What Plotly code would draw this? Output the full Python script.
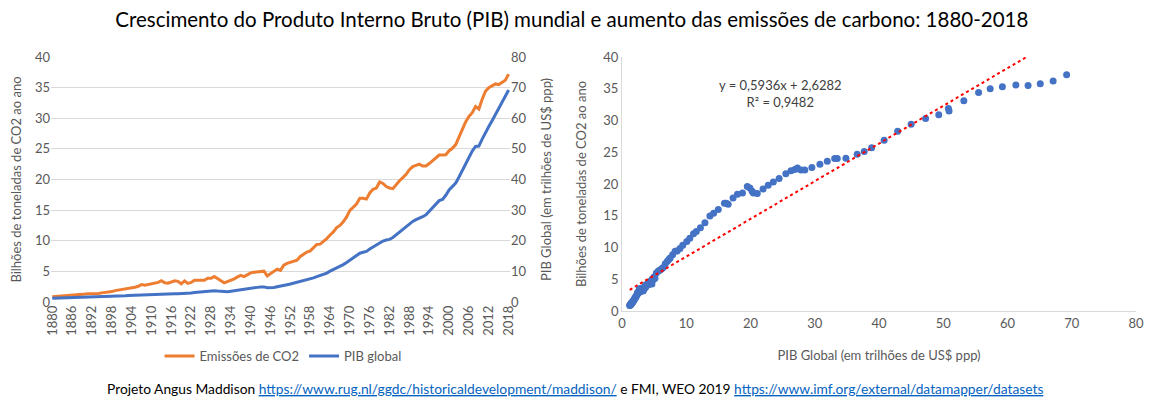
import plotly.graph_objects as go

# anos 1880-2018
anos = list(range(1880, 2019))

# emissões de CO2 (bilhões de toneladas por ano)
co2 = [
    0.86, 0.90, 0.95, 1.01, 1.01, 1.01, 1.03, 1.08, 1.18, 1.18,
    1.30, 1.36, 1.37, 1.34, 1.40, 1.49, 1.52, 1.60, 1.70, 1.86,
    1.95, 2.02, 2.06, 2.26, 2.27, 2.42, 2.56, 2.86, 2.74, 2.86,
    3.01, 3.05, 3.20, 3.47, 3.14, 3.07, 3.31, 3.46, 3.38, 2.97,
    3.45, 3.03, 3.19, 3.56, 3.55, 3.59, 3.56, 3.87, 3.86, 4.15,
    3.86, 3.48, 3.13, 3.33, 3.61, 3.76, 4.10, 4.35, 4.14, 4.42,
    4.76, 4.87, 4.90, 5.05, 5.03, 4.25, 4.63, 5.05, 5.37, 5.17,
    6.00, 6.30, 6.43, 6.63, 6.81, 7.43, 7.85, 8.15, 8.35, 8.85,
    9.39, 9.45, 9.85, 10.35, 10.95, 11.45, 12.15, 12.50, 13.10, 13.90,
    14.95, 15.40, 16.00, 16.95, 16.95, 16.80, 17.80, 18.40, 18.60, 19.60,
    19.35, 18.85, 18.60, 18.50, 19.20, 19.80, 20.30, 20.85, 21.60, 22.10,
    22.30, 22.50, 22.20, 22.20, 22.60, 23.10, 23.60, 24.00, 24.00, 24.05,
    24.70, 25.10, 25.70, 26.90, 28.30, 29.40, 30.30, 30.90, 31.90, 31.50,
    33.10, 34.40, 35.00, 35.30, 35.60, 35.50, 35.80, 36.20, 37.20,
]

# PIB global (trilhões de US$ ppp)
pib = [
    1.20, 1.23, 1.27, 1.30, 1.32, 1.34, 1.37, 1.41, 1.44, 1.47,
    1.52, 1.54, 1.58, 1.59, 1.64, 1.70, 1.74, 1.77, 1.85, 1.91,
    1.97, 2.02, 2.06, 2.13, 2.17, 2.24, 2.35, 2.40, 2.40, 2.50,
    2.56, 2.61, 2.70, 2.73, 2.64, 2.66, 2.76, 2.72, 2.70, 2.71,
    2.75, 2.80, 2.94, 3.08, 3.19, 3.30, 3.40, 3.51, 3.62, 3.70,
    3.57, 3.43, 3.28, 3.37, 3.52, 3.70, 3.93, 4.08, 4.13, 4.37,
    4.49, 4.68, 4.78, 4.90, 4.93, 4.65, 4.60, 4.73, 4.98, 5.13,
    5.34, 5.65, 5.88, 6.14, 6.35, 6.73, 7.05, 7.32, 7.49, 7.87,
    8.26, 8.58, 9.02, 9.45, 10.08, 10.55, 11.13, 11.56, 12.20, 12.90,
    13.68, 14.25, 14.98, 15.94, 16.24, 16.52, 17.28, 17.96, 18.75, 19.50,
    19.90, 20.25, 20.45, 21.05, 21.95, 22.75, 23.55, 24.45, 25.50, 26.30,
    26.90, 27.30, 27.85, 28.45, 29.55, 30.80, 31.95, 33.10, 33.50, 34.85,
    36.60, 37.70, 38.85, 40.80, 42.90, 45.00, 47.25, 49.30, 50.80, 50.90,
    53.20, 55.50, 57.30, 59.20, 61.30, 63.20, 65.10, 67.10, 69.20,
]

# rótulos do eixo x (a cada 6 anos)
anos_ticks = list(range(1880, 2019, 6))

# linha de tendência linear (do Excel)
inclinacao = 0.5936
intercepto = 2.6282

laranja = "#ED7D31"
azul = "#4472C4"
cinza = "#595959"
fonte = "Lato"

fig = go.Figure()

fig.add_trace(go.Scatter(
    x=anos, y=co2, mode="lines", name="Emissões de CO2",
    line=dict(color=laranja, width=3), xaxis="x", yaxis="y"))
fig.add_trace(go.Scatter(
    x=anos, y=pib, mode="lines", name="PIB global",
    line=dict(color=azul, width=3), xaxis="x", yaxis="y2"))

# dispersão PIB x CO2
fig.add_trace(go.Scatter(
    x=pib, y=co2, mode="markers", showlegend=False,
    marker=dict(color=azul, size=7), xaxis="x3", yaxis="y3"))
tx = [min(pib), max(pib)]
fig.add_trace(go.Scatter(
    x=tx, y=[inclinacao * v + intercepto for v in tx], mode="lines",
    showlegend=False, line=dict(color="#FF0000", width=2, dash="dot"),
    xaxis="x3", yaxis="y3"))

tickfont = dict(family=fonte, size=13, color=cinza)
titlefont = dict(family=fonte, size=13, color=cinza)

# a página tem 8px de margem no body, por isso 1146x398
fig.update_layout(
    width=1146, height=398,
    margin=dict(l=0, r=0, t=0, b=0),
    paper_bgcolor="white", plot_bgcolor="white",
    font=dict(family=fonte, color=cinza),
    title=dict(
        text="Crescimento do Produto Interno Bruto (PIB) mundial e aumento das emissões de carbono: 1880-2018",
        x=0.492, xanchor="center", y=0.97, yanchor="middle",
        font=dict(family=fonte, size=20.5, color="black")),
    xaxis=dict(
        domain=[0.0375, 0.438], range=[1879.6, 2018.4],
        tickvals=anos_ticks, tickangle=-90, tickfont=tickfont,
        showgrid=False, zeroline=False, showline=False, ticks="",
        automargin=False),
    yaxis=dict(
        domain=[0.2613, 0.8769], range=[0, 40], dtick=5, tickfont=tickfont,
        gridcolor="#D9D9D9", zeroline=False, showline=False, automargin=False,
        title=dict(text="Bilhões de toneladas de CO2 ao ano", font=titlefont, standoff=16)),
    yaxis2=dict(
        overlaying="y", side="right", anchor="x", range=[0, 80], dtick=10,
        tickfont=tickfont, showgrid=False, zeroline=False, showline=False,
        automargin=False,
        title=dict(text="PIB Global (em trilhões de US$ ppp)", font=titlefont, standoff=16)),
    xaxis3=dict(
        domain=[0.5358, 0.9843], range=[0, 80], dtick=10, tickfont=tickfont,
        showgrid=False, zeroline=False, showline=True, linecolor="#D9D9D9",
        anchor="y3", ticks="", automargin=False,
        title=dict(text="PIB Global (em trilhões de US$ ppp)", font=titlefont, standoff=21)),
    yaxis3=dict(
        domain=[0.2387, 0.8769], range=[0, 40], dtick=5, tickfont=tickfont,
        showgrid=False, zeroline=False, showline=True, linecolor="#D9D9D9",
        anchor="x3", ticks="", automargin=False,
        title=dict(text="Bilhões de toneladas de CO2 ao ano", font=titlefont, standoff=13)),
    legend=dict(
        orientation="h", x=0.24, xanchor="center", y=0.1256, yanchor="middle",
        font=dict(family=fonte, size=13, color=cinza), itemwidth=30),
)

fig.add_annotation(
    xref="x3", yref="y3", x=24.6, y=34.2, showarrow=False,
    text="y = 0,5936x + 2,6282<br>R² = 0,9482",
    font=dict(family=fonte, size=13, color="#404040"))

link = "color:#0563C1;text-decoration:underline"
fig.add_annotation(
    xref="paper", yref="paper", x=0.495, y=0.045, yanchor="middle", showarrow=False,
    text=("Projeto Angus Maddison "
          f"<a href='https://www.rug.nl/ggdc/historicaldevelopment/maddison/' style='{link}'>"
          "https://www.rug.nl/ggdc/historicaldevelopment/maddison/</a>"
          " e FMI, WEO 2019 "
          f"<a href='https://www.imf.org/external/datamapper/datasets' style='{link}'>"
          "https://www.imf.org/external/datamapper/datasets</a>"),
    font=dict(family=fonte, size=13.8, color="black"))

fig.write_html("out.html")
